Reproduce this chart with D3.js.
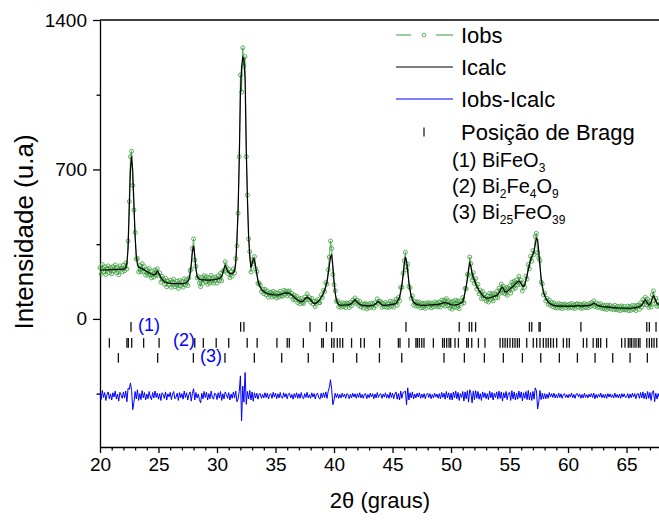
<!DOCTYPE html>
<html>
<head>
<meta charset="utf-8">
<script src="https://cdn.jsdelivr.net/npm/d3@7"></script>
<style>
  body { margin: 0; background: #fff; }
  svg { display: block; font-family: "Liberation Sans", Arial, sans-serif; }
</style>
</head>
<body>
<svg id="mainSvg" width="659" height="522"></svg>
<script>
// 2theta grid of the pattern (degrees)
var tthStart = 20, tthStep = 0.1;

// calculated intensity, one row per degree (x.0 ... x.9)
var icalc = [
  228,228,229,229,229,230,230,230,230,231,
  231,231,231,231,232,232,232,232,233,233,
  233,235,240,262,330,520,700,760,690,540,
  385,295,255,242,240,238,235,232,229,225,
  222,219,216,213,210,208,206,207,213,223,
  218,205,194,186,180,175,172,170,168,167,
  166,166,165,165,165,165,165,165,165,165,
  165,165,166,167,170,176,186,208,258,318,
  342,295,232,202,190,186,184,183,183,183,
  183,182,182,182,182,182,183,183,184,185,
  186,188,190,193,200,215,238,250,238,225,
  217,213,212,213,216,225,260,370,510,740,
  1050,1180,1225,1215,1120,800,560,390,290,240,
  258,283,278,245,210,182,160,148,140,133,
  128,124,121,119,117,116,115,114,113,112,
  112,112,112,113,114,116,118,120,121,121,
  122,121,119,116,112,107,102,97,92,88,
  85,82,81,82,86,92,98,101,100,95,
  90,82,76,72,72,75,79,85,92,100,
  110,120,135,152,175,210,250,290,300,250,
  180,120,90,75,68,65,64,64,64,65,
  65,65,66,67,69,72,77,84,89,84,
  77,72,68,66,64,63,62,62,61,61,
  61,61,62,63,65,68,73,79,81,76,
  70,66,64,63,63,64,65,66,67,67,
  68,69,70,74,80,90,104,125,160,200,
  255,290,272,220,172,132,106,90,80,74,
  70,68,66,65,64,64,63,63,63,64,
  64,65,65,66,66,66,67,67,67,68,
  69,70,72,74,76,76,75,73,71,69,
  67,66,65,65,66,67,68,70,73,77,
  80,100,125,155,185,235,262,245,215,195,
  183,165,152,142,133,125,117,110,104,100,
  98,97,97,98,100,102,104,106,108,110,
  115,122,132,145,148,138,128,126,128,133,
  138,143,148,153,158,164,170,175,177,173,
  164,155,152,160,180,205,230,255,278,292,
  300,318,350,378,372,315,248,190,152,128,
  110,98,88,80,74,70,67,65,63,62,
  61,61,60,60,60,60,60,60,60,60,
  60,60,60,60,60,60,61,61,61,61,
  61,61,61,61,61,62,62,62,63,64,
  66,70,73,72,68,64,62,60,59,58,
  57,57,56,56,55,55,54,54,53,53,
  52,52,52,51,51,51,51,50,50,50,
  50,50,50,50,50,51,51,52,53,54,
  55,57,60,65,72,82,89,82,72,66,
  68,78,95,108,100,85,74,70,68
];

// Iobs - Icalc on the same grid
var diff = [
  12,-18,25,-8,15,-22,6,18,-14,9,
  -20,14,-6,22,-15,8,-25,16,4,-12,
  18,-10,22,-28,35,30,60,25,-65,-30,
  20,-15,28,-22,10,-18,24,-9,15,-20,
  8,-14,20,-6,-18,15,-10,22,-8,12,
  -16,10,-22,14,6,-12,18,-20,9,-5,
  16,-18,8,20,-14,-6,12,-22,15,-9,
  10,-16,22,-8,14,-20,6,18,-25,12,
  33,-20,15,-10,8,-18,-33,12,-15,20,
  -8,16,-20,10,-14,22,-6,-16,12,8,
  -18,14,-10,20,-22,9,-15,18,6,-12,
  15,-20,8,-12,18,-10,22,-28,-15,20,
  93,-117,45,-30,109,-40,20,-15,25,-20,
  18,-25,14,-10,12,-16,8,10,-12,6,
  -10,14,-8,12,-15,6,10,-12,16,-6,
  12,-14,9,-10,15,-8,-12,14,-6,10,
  -14,8,12,-10,6,-16,10,-8,14,-12,
  9,-12,15,-6,-14,10,-8,16,-10,5,
  -12,14,-6,10,-15,8,12,-10,-16,12,
  -10,14,-8,18,-12,20,40,75,30,-42,
  -20,12,-8,10,-12,6,-10,12,-6,8,
  -12,10,6,-14,8,-10,12,-6,9,-12,
  10,-8,14,-10,6,-12,8,10,-14,6,
  -9,12,-6,10,-14,8,-10,15,-8,6,
  10,-12,8,-6,14,-10,6,-12,16,-8,
  12,-14,8,18,-16,10,-20,22,-12,15,
  18,22,-42,37,-20,14,-10,18,-15,8,
  -10,12,-6,14,-12,8,-9,10,-14,6,
  12,-8,10,-14,6,-10,12,-6,8,-12,
  10,-14,16,-8,12,-16,20,-10,14,-18,
  12,-20,18,-10,22,-14,16,-22,10,-8,
  20,-25,18,-14,24,-30,28,14,-33,22,
  -18,24,-12,20,-16,10,-22,18,-8,14,
  -14,10,-18,22,-10,16,-20,12,-8,18,
  -16,22,-12,18,-25,14,-10,20,-18,12,
  16,-22,24,-14,18,-20,12,-16,22,-10,
  18,-24,14,-12,20,-18,25,-20,15,-22,
  20,-16,37,23,-62,-30,25,-18,12,-15,
  10,-14,8,-12,15,-6,10,-8,12,-10,
  6,-10,12,-8,9,-12,6,10,-8,5,
  -10,8,-6,12,-9,6,-12,8,10,-6,
  8,-12,6,-10,12,-8,5,-10,8,-6,
  10,-8,12,-14,6,-10,8,-6,12,-9,
  6,-10,8,-12,10,-6,9,-8,5,-10,
  12,-8,6,-10,8,-12,10,-6,9,-8,
  -6,10,-12,8,-9,12,-6,10,-14,8,
  10,-12,15,-10,18,-14,12,-16,20,-12,
  15,-22,18,23,-28,12,-15,10,-8
];
var diffOffset = -360;

// Bragg positions (2theta) of the three phases
var bragg1 = [22.65,32.02,32.3,37.95,39.35,39.8,46.15,50.7,51.56,51.77,52.1,56.7,56.9,57.52,57.62,61.1,66.73,66.95,67.52];
var bragg2 = [20.8,22.3,22.42,22.71,23.73,25.05,28.1,28.83,29.93,31.0,32.58,33.43,35.12,36.0,36.18,37.38,38.95,39.09,
  39.8,40.0,40.28,40.51,40.74,41.5,42.28,42.59,43.9,45.5,45.64,46.4,47.0,47.12,47.29,47.5,47.69,48.49,
  49.28,49.43,49.63,49.83,49.97,50.34,50.63,51.34,51.48,51.77,52.34,52.9,54.19,54.42,54.62,54.82,55.04,
  55.27,55.47,55.67,55.84,56.47,57.03,57.32,57.6,57.89,58.12,58.31,58.52,58.75,59.03,59.6,59.89,60.11,
  61.31,61.6,62.15,62.44,62.59,62.79,63.3,64.58,64.87,65.15,65.3,65.44,65.64,65.81,66.01,66.15,66.73,
  66.95,67.15,67.35,67.58];
var bragg3 = [21.57,24.93,27.98,30.68,33.19,35.53,37.8,39.94,41.94,43.88,45.79,49.4,51.14,52.85,54.47,56.1,57.67,59.26,60.8,62.31,63.82,65.3,66.78];
var braggRowLabels = ["(1)", "(2)", "(3)"];

var xMajorTicks = [20,25,30,35,40,45,50,55,60,65];
var xMinorTicks = [21,22,23,24,26,27,28,29,31,32,33,34,36,37,38,39,41,42,43,44,46,47,48,49,51,52,53,54,56,57,58,59,61,62,63,64,66,67];
var yMajorTicks = [0,700,1400];
var yMinorTicks = [-350,350,1050];

var legendLabels = ["Iobs", "Icalc", "Iobs-Icalc", "Posição de Bragg"];
// phase names as [text, isSubscript] pieces
var phaseNames = [
  [["(1) BiFeO",0],["3",1]],
  [["(2) Bi",0],["2",1],["Fe",0],["4",1],["O",0],["9",1]],
  [["(3) Bi",0],["25",1],["FeO",0],["39",1]]
];

var green = "#3a9a3a";

var pattern = icalc.map(function(v, i) {
  return { t: +(tthStart + i * tthStep).toFixed(1), calc: v, obs: v + diff[i], diff: diff[i] };
});

var svg = d3.select("#mainSvg");

var x = d3.scaleLinear().domain([20, 67.8]).range([100, 659.3]);
var y = d3.scaleLinear().domain([-600, 1400]).range([447, 20]);

// axes
svg.append("g")
  .attr("transform", "translate(0,447)")
  .call(d3.axisBottom(x).tickValues(xMajorTicks).tickSize(6).tickSizeOuter(0).tickPadding(5).tickFormat(d3.format("d")));
svg.append("g")
  .attr("transform", "translate(0,447)")
  .call(d3.axisBottom(x).tickValues(xMinorTicks).tickSize(3.5).tickFormat(""))
  .select(".domain").remove();

svg.append("g")
  .attr("transform", "translate(100,0)")
  .call(d3.axisLeft(y).tickValues(yMajorTicks).tickSize(7).tickSizeOuter(0).tickPadding(6).tickFormat(d3.format("d")));
svg.append("g")
  .attr("transform", "translate(100,0)")
  .call(d3.axisLeft(y).tickValues(yMinorTicks).tickSize(3.5).tickFormat(""))
  .select(".domain").remove();

svg.selectAll(".tick line").attr("stroke-width", 1.3);
svg.selectAll(".domain").attr("stroke-width", 1.3);
svg.selectAll(".tick text").attr("font-size", 19).attr("font-family", "Liberation Sans, Arial, sans-serif").attr("fill", "#000");

// top frame
svg.append("line")
  .attr("x1", 100).attr("x2", 660).attr("y1", 20).attr("y2", 20)
  .attr("stroke", "#000").attr("stroke-width", 1.3);

// axis titles
svg.append("text")
  .attr("transform", "translate(33,232) rotate(-90)")
  .attr("text-anchor", "middle")
  .attr("font-size", 26)
  .text("Intensidade (u.a)");

svg.append("text")
  .attr("x", 380).attr("y", 508)
  .attr("text-anchor", "middle")
  .attr("font-size", 22)
  .text("2θ (graus)");

// Iobs
var obsLine = d3.line().x(function(d) { return x(d.t); }).y(function(d) { return y(d.obs); });
svg.append("path").datum(pattern)
  .attr("d", obsLine).attr("fill", "none").attr("stroke", green).attr("stroke-width", 0.8);
svg.append("g").selectAll("circle")
  .data(pattern)
  .enter().append("circle")
  .attr("cx", function(d) { return x(d.t); })
  .attr("cy", function(d) { return y(d.obs); })
  .attr("r", 2)
  .attr("fill", "none")
  .attr("stroke", green)
  .attr("stroke-width", 0.8);

// Icalc
var calcLine = d3.line().x(function(d) { return x(d.t); }).y(function(d) { return y(d.calc); });
svg.append("path").datum(pattern)
  .attr("d", calcLine).attr("fill", "none").attr("stroke", "#000").attr("stroke-width", 1.2);

// Iobs - Icalc
var diffLine = d3.line().x(function(d) { return x(d.t); }).y(function(d) { return y(d.diff + diffOffset); });
svg.append("path").datum(pattern)
  .attr("d", diffLine).attr("fill", "none").attr("stroke", "#0000ff").attr("stroke-width", 1);

// Bragg ticks
var braggRows = [
  { pos: bragg1, top: -15, bottom: -60 },
  { pos: bragg2, top: -90, bottom: -135 },
  { pos: bragg3, top: -160, bottom: -205 }
];
braggRows.forEach(function(row) {
  svg.append("g").selectAll("line")
    .data(row.pos)
    .enter().append("line")
    .attr("x1", function(d) { return x(d); })
    .attr("x2", function(d) { return x(d); })
    .attr("y1", y(row.top))
    .attr("y2", y(row.bottom))
    .attr("stroke", "#111")
    .attr("stroke-width", 1.3);
});

var rowLabelPos = [[138, 331], [173, 346], [200, 362]];
svg.selectAll(".rowLabel")
  .data(braggRowLabels)
  .enter().append("text")
  .attr("class", "rowLabel")
  .attr("x", function(d, i) { return rowLabelPos[i][0]; })
  .attr("y", function(d, i) { return rowLabelPos[i][1]; })
  .attr("font-size", 18)
  .attr("fill", "#0000ff")
  .text(function(d) { return d; });

// legend
var legend = svg.append("g");
var legY = [35, 67, 99, 132];
legend.append("line").attr("x1", 396).attr("x2", 411).attr("y1", legY[0]).attr("y2", legY[0]).attr("stroke", green);
legend.append("line").attr("x1", 436).attr("x2", 453).attr("y1", legY[0]).attr("y2", legY[0]).attr("stroke", green);
legend.append("circle").attr("cx", 424).attr("cy", legY[0]).attr("r", 1.8).attr("fill", "none").attr("stroke", green).attr("stroke-width", 0.8);
legend.append("line").attr("x1", 396).attr("x2", 453).attr("y1", legY[1]).attr("y2", legY[1]).attr("stroke", "#000");
legend.append("line").attr("x1", 396).attr("x2", 453).attr("y1", legY[2]).attr("y2", legY[2]).attr("stroke", "#0000ff");
legend.append("line").attr("x1", 424).attr("x2", 424).attr("y1", legY[3] - 4.5).attr("y2", legY[3] + 4.5).attr("stroke", "#111").attr("stroke-width", 1.2);

legend.selectAll("text.leg")
  .data(legendLabels)
  .enter().append("text")
  .attr("class", "leg")
  .attr("x", 461)
  .attr("y", function(d, i) { return legY[i] + 8; })
  .attr("font-size", 22)
  .text(function(d) { return d; });

var phaseY = [167, 193, 219];
phaseNames.forEach(function(pieces, i) {
  var t = legend.append("text").attr("x", 452).attr("y", phaseY[i]).attr("font-size", 20);
  var shifted = false;
  pieces.forEach(function(p) {
    var ts = t.append("tspan").text(p[0]);
    if (p[1] && !shifted) { ts.attr("dy", 5).attr("font-size", 12); shifted = true; }
    else if (!p[1] && shifted) { ts.attr("dy", -5); shifted = false; }
    else if (p[1]) { ts.attr("font-size", 12); }
  });
});
</script>
</body>
</html>
